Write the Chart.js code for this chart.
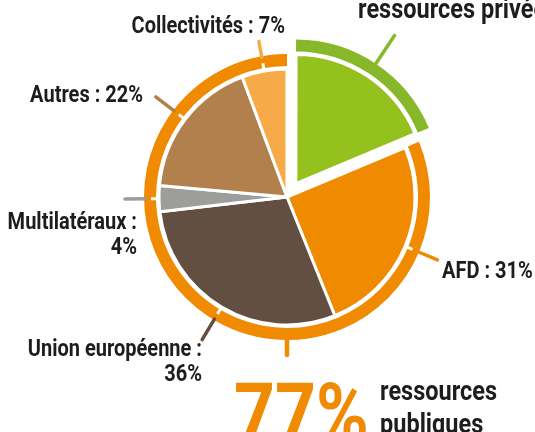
<!DOCTYPE html>
<html lang="fr">
<head>
<meta charset="utf-8">
<title>Ressources publiques et privées</title>
<script src="https://cdn.jsdelivr.net/npm/chart.js@4.4.1/dist/chart.umd.min.js"></script>
<style>
html,body{margin:0;padding:0;background:#fff;}
canvas{display:block;}
</style>
</head>
<body>
<canvas id="pie" width="535" height="432"></canvas>
<script>
/* ── Data ── */
const labels=['Ressources privées','AFD','Union européenne','Multilatéraux','Autres','Collectivités'];
const shares=[23,31,36,4,22,7];
const sliceColors=['#95c11f','#f08a00','#634f42','#9d9d9c','#b1804c','#f7ab48'];
const ringLabels=['privées','publiques'];
const ringShares=[shares[0],shares.slice(1).reduce((a,b)=>a+b,0)];
const ringColors=['#86b829','#f08a00'];

const FONT='Roboto,"Noto Sans",sans-serif';
const INK='#1d1d1b';

/* label layout: [slice index, align, x, first baseline, lines] */
const labelLayout=[
  [5,'right',285,33,1],
  [4,'right',143,102,1],
  [3,'right',137,229,2],
  [2,'right',202,356,2],
  [1,'left',442,278,1]
];
const leaderReach=[178,163,166,162,165,158];

/* condensed text: squeeze horizontally around the anchor */
function narrowText(ctx,text,x,y,align,k){
  ctx.save();
  ctx.translate(x,y);
  ctx.scale(k,1);
  ctx.textAlign=align;
  ctx.fillText(text,0,0);
  ctx.restore();
}

/* ── Leader ticks + texts ── */
const annotate={
  id:'annotate',
  afterDatasetsDraw(chart){
    const ctx=chart.ctx;
    const ring=chart.getDatasetMeta(0).data;
    const pie=chart.getDatasetMeta(2).data;
    const rIn=ring[1].innerRadius,rOut=ring[1].outerRadius;
    ctx.save();
    ctx.lineCap='round';
    pie.forEach((arc,i)=>{
      const mid=(arc.startAngle+arc.endAngle)/2;
      const shift=(arc.options.offset||0)/4;
      const cx=arc.x+Math.cos(mid)*shift,cy=arc.y+Math.sin(mid)*shift;
      const c=Math.cos(mid),s=Math.sin(mid);
      if(i>0){
        ctx.strokeStyle='#fff';ctx.lineWidth=3;ctx.lineCap='butt';
        ctx.beginPath();ctx.moveTo(cx+c*(rIn-1),cy+s*(rIn-1));ctx.lineTo(cx+c*(rIn+5),cy+s*(rIn+5));ctx.stroke();
        ctx.lineCap='round';
      }
      const r0=i>0?rOut-1:rOut+2;
      ctx.strokeStyle=i===0?ringColors[0]:sliceColors[i];
      ctx.lineWidth=3.5;
      ctx.beginPath();ctx.moveTo(cx+c*r0,cy+s*r0);ctx.lineTo(cx+c*leaderReach[i],cy+s*leaderReach[i]);ctx.stroke();
    });
    /* public-resources tick at the bottom of the orange ring */
    const pub=ring[1];
    ctx.strokeStyle=ringColors[1];ctx.lineWidth=4.5;
    ctx.beginPath();ctx.moveTo(pub.x,pub.y+rOut-1);ctx.lineTo(pub.x,pub.y+rOut+15);ctx.stroke();
    ctx.restore();
  },
  afterDraw(chart){
    const ctx=chart.ctx;
    ctx.save();
    ctx.fillStyle=INK;
    ctx.font='bold 23px '+FONT;
    labelLayout.forEach(([i,align,x,y,lines])=>{
      if(lines===1){
        narrowText(ctx,labels[i]+' : '+shares[i]+'%',x,y,align,0.87);
      }else{
        narrowText(ctx,labels[i]+' :',x,y,align,0.87);
        narrowText(ctx,shares[i]+'%',x,y+25,align,0.87);
      }
    });
    ctx.font='bold 28px '+FONT;
    narrowText(ctx,'ressources '+labels[0].split(' ')[1],358,18,'left',0.84);
    narrowText(ctx,'ressources',380,400,'left',0.84);
    narrowText(ctx,ringLabels[1],380,433,'left',0.84);
    ctx.fillStyle=ringColors[1];
    ctx.font='bold 84px '+FONT;
    narrowText(ctx,(100-shares[0])+'%',234,442,'left',0.85);
    ctx.restore();
  }
};

new Chart(document.getElementById('pie'),{
  type:'doughnut',
  data:{
    labels:labels,
    datasets:[
      {data:ringShares,backgroundColor:ringColors,borderWidth:0,offset:[64,0],weight:12},
      {data:[1],backgroundColor:'rgba(0,0,0,0)',borderWidth:0,weight:3},
      {data:shares,backgroundColor:sliceColors,borderColor:'#fff',borderWidth:3,offset:[64,0,0,0,0,0],weight:128}
    ]
  },
  options:{
    responsive:false,
    animation:false,
    radius:143,
    cutout:0,
    events:[],
    layout:{padding:{left:39,right:0,top:0,bottom:38}},
    plugins:{legend:{display:false},tooltip:{enabled:false}}
  },
  plugins:[annotate]
});
</script>
</body>
</html>
